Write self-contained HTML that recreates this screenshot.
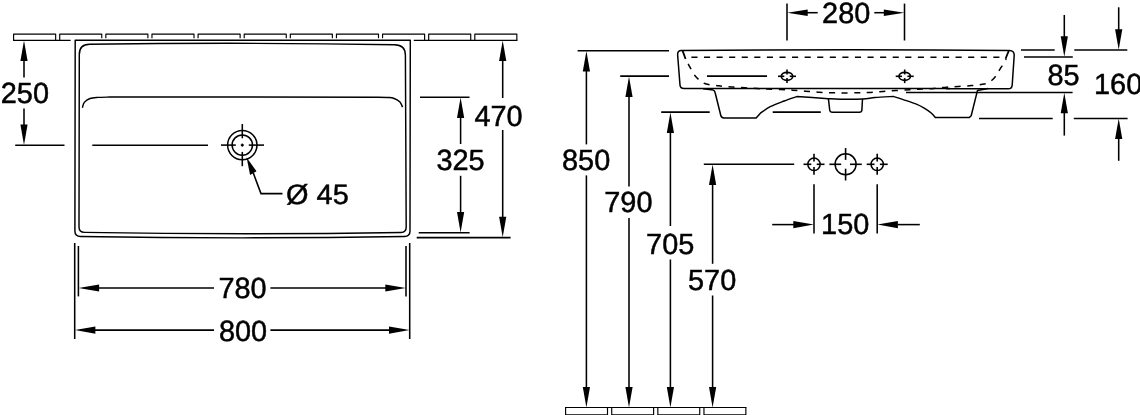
<!DOCTYPE html>
<html lang="en">
<head>
<meta charset="utf-8">
<title>Washbasin technical drawing</title>
<style>
html,body{margin:0;padding:0;background:#fff;}
body{width:1140px;height:415px;overflow:hidden;}
svg{display:block;}
.o{fill:none;stroke:#000;stroke-width:1.5;stroke-linecap:butt;stroke-linejoin:round;}
.dash{stroke-dasharray:6.1 6.48;}
.d{fill:#000;stroke:#000;stroke-width:1.55;}
.bar{stroke-width:1.15;}
.k{stroke-width:1.6;}
.lv{stroke-width:1.45;}
.d polygon{stroke:none;}
.t{font-family:"Liberation Sans",sans-serif;font-size:28.9px;fill:#000;stroke:#000;stroke-width:0.5px;opacity:0.999;text-rendering:geometricPrecision;}
</style>
</head>
<body>
<svg width="1140" height="415" viewBox="0 0 1140 415">
<rect x="0" y="0" width="1140" height="415" fill="#fff"/>
<g class="o bar">
<path d="M13.60 40.3 V34.1 H55.65 V40.3"/>
<path d="M59.72 40.3 V34.1 H101.77 V38.2"/>
<path d="M105.84 38.2 V34.1 H147.89 V38.2"/>
<path d="M151.96 38.2 V34.1 H194.01 V38.2"/>
<path d="M198.08 38.2 V34.1 H240.13 V38.2"/>
<path d="M244.20 38.2 V34.1 H286.25 V38.2"/>
<path d="M290.32 38.2 V34.1 H332.37 V38.2"/>
<path d="M336.44 38.2 V34.1 H378.49 V38.2"/>
<path d="M382.56 38.2 V34.1 H424.61 V40.3"/>
<path d="M428.68 40.3 V34.1 H470.73 V40.3"/>
<path d="M474.80 40.3 V34.1 H516.85 V40.3"/>
<path d="M13.03 40.3 H70.6 M413.8 40.3 H517.45"/>
</g>
<g class="o">
<path class="lv" d="M74.9 231 L75.2 40.3 H410.3 L410 231 Q410 236.4 404.5 236.5 Q242 239.2 80.5 236.5 Q74.9 236.4 74.9 231"/>
<path class="lv" d="M79 227 L79.3 54.5 Q79.3 44.4 89.5 44.3 Q242 42.2 394.5 44.7 Q405.3 44.8 405.4 55 L406.2 227 Q406.2 232.4 401 232.5 Q242 235 84.5 232.4 Q79 232.3 79 227 Z"/>
<path class="lv" d="M82.40 107.70 C82.72 106.82 83.03 103.93 84.30 102.40 C85.57 100.87 87.72 99.33 90.00 98.50 C92.28 97.67 94.77 97.64 98.00 97.40 C101.23 97.16 107.50 97.11 109.40 97.05 L242 96.9 L376 97.3 C378.00 97.33 385.08 97.35 388.00 97.50 C390.92 97.65 391.55 97.50 393.50 98.20 C395.45 98.90 398.18 100.20 399.70 101.70 C401.22 103.20 402.12 106.28 402.60 107.20"/>
<circle cx="242.3" cy="145.1" r="14.7"/><circle cx="242.3" cy="145.1" r="10.2"/>
</g>
<g class="d">
<line x1="15.20" y1="145.20" x2="64.50" y2="145.20"/>
<line x1="92.30" y1="145.20" x2="208.00" y2="145.20"/>
<line x1="221.00" y1="145.10" x2="235.80" y2="145.10"/>
<line x1="240.80" y1="145.10" x2="243.80" y2="145.10"/>
<line x1="248.80" y1="145.10" x2="264.00" y2="145.10"/>
<line x1="242.30" y1="124.00" x2="242.30" y2="138.30"/>
<line x1="242.30" y1="143.60" x2="242.30" y2="146.60"/>
<line x1="242.30" y1="151.90" x2="242.30" y2="166.20"/>
<path d="M253.2 172.8 L261 193.6 H282.5" fill="none"/>
<polygon points="246.6,157.5 250.1,175 256.5,171.3"/>
<line x1="24.00" y1="60.00" x2="24.00" y2="77.50"/>
<line x1="24.00" y1="108.50" x2="24.00" y2="125.00"/>
<polygon points="24.00,40.60 20.40,61.10 27.60,61.10"/>
<polygon points="24.00,144.90 20.40,124.40 27.60,124.40"/>
<line x1="420.00" y1="97.20" x2="469.50" y2="97.20"/>
<line x1="418.70" y1="232.80" x2="469.60" y2="232.80"/>
<line x1="460.60" y1="117.00" x2="460.60" y2="144.00"/>
<line x1="460.60" y1="175.80" x2="460.60" y2="213.00"/>
<polygon points="460.60,97.50 457.00,118.00 464.20,118.00"/>
<polygon points="460.60,232.50 457.00,212.00 464.20,212.00"/>
<line x1="416.70" y1="237.60" x2="510.60" y2="237.60"/>
<line x1="502.70" y1="60.00" x2="502.70" y2="98.00"/>
<line x1="502.70" y1="130.00" x2="502.70" y2="218.00"/>
<polygon points="502.70,40.60 499.10,61.10 506.30,61.10"/>
<polygon points="502.70,237.30 499.10,216.80 506.30,216.80"/>
<line x1="78.40" y1="246.00" x2="78.40" y2="296.40"/>
<line x1="406.00" y1="246.00" x2="406.00" y2="296.40"/>
<line x1="99.00" y1="288.00" x2="214.00" y2="288.00"/>
<line x1="270.40" y1="288.00" x2="386.00" y2="288.00"/>
<polygon points="78.60,288.00 99.10,284.40 99.10,291.60"/>
<polygon points="405.80,288.00 385.30,284.40 385.30,291.60"/>
<line x1="74.70" y1="243.00" x2="74.70" y2="339.00"/>
<line x1="409.70" y1="243.00" x2="409.70" y2="339.00"/>
<line x1="95.00" y1="330.10" x2="214.00" y2="330.10"/>
<line x1="270.40" y1="330.10" x2="390.00" y2="330.10"/>
<polygon points="74.90,330.10 95.40,326.50 95.40,333.70"/>
<polygon points="409.50,330.10 389.00,326.50 389.00,333.70"/>
</g>
<g class="o">
<path d="M713 88.5 H684 Q680.2 88.5 680 85 L677.6 54.5 Q677.6 50.5 681.3 50.5 Q845 49.3 1009.5 50.4 Q1014.3 50.4 1014.2 55.5 L1012.2 85 Q1012 88.8 1008.3 88.8 H946"/>
<path d="M713 88.5 H768"/>
<path d="M768 88.5 H950"/>
<path d="M682.6 50.9 Q683.8 54 685.6 59" style="stroke-width:1.8"/>
<path d="M1008.8 50.9 Q1007.4 54 1005.6 58.8" style="stroke-width:1.8"/>
<path d="M703 88.7 L713.3 90.1 Q714.7 90.6 715.1 92.5 L720.8 115.5 Q721.4 117.9 724 117.9 H756.1 L760.4 113.2 C762.03 112.12 766.23 108.73 770.20 106.70 C774.17 104.67 779.77 102.68 784.20 101.00 C788.63 99.32 794.70 97.33 796.80 96.60 L812.3 97.5 L828.4 98.7 C830.40 98.78 834.72 99.15 840.40 99.20 C846.08 99.25 856.73 99.27 862.50 99.00 C868.27 98.73 869.87 98.03 875.00 97.60 C880.13 97.17 890.25 96.60 893.30 96.40 C894.95 96.93 899.45 98.35 903.20 99.60 C906.95 100.85 912.30 102.48 915.80 103.90 C919.30 105.32 921.63 106.58 924.20 108.10 C926.77 109.62 929.33 111.42 931.20 113.00 C933.07 114.58 934.70 116.83 935.40 117.60 H969.1 L971.2 115.8 L977.5 90.4 L988 88.6"/>
<path d="M828.4 98.7 L829.7 110 Q830 112.3 832.5 112.3 H859.3 Q861.7 112.3 861.9 110 L862.5 99"/>
<ellipse cx="787.0" cy="76.3" rx="5.7" ry="4.0" style="stroke-width:1.65"/>
<ellipse cx="904.7" cy="76.3" rx="5.7" ry="4.0" style="stroke-width:1.65"/>
<circle cx="814" cy="164.3" r="6.2"/><circle cx="845.6" cy="164.3" r="10.5"/><circle cx="877.2" cy="164.3" r="6.2"/>
</g>
<g class="o bar">
<path d="M565.60 407.5 V414.9 H607.50 V407.5"/>
<path d="M611.72 407.5 V414.9 H653.62 V407.5"/>
<path d="M657.84 407.5 V414.9 H699.74 V407.5"/>
<path d="M703.96 407.5 V414.9 H745.86 V407.5"/>
<path d="M565.0 407.5 H746.45"/>
</g>
<g class="o dash">
<path d="M691.4 57.3 H1004"/>
<path d="M685.00 58.30 C685.57 59.30 687.33 62.40 688.40 64.30 C689.47 66.20 690.30 67.80 691.40 69.70 C692.50 71.60 693.68 73.98 695.00 75.70 C696.32 77.42 697.80 78.75 699.30 80.00 C700.80 81.25 702.22 82.40 704.00 83.20 C705.78 84.00 707.78 84.38 710.00 84.80 C712.22 85.22 715.17 85.45 717.30 85.70 C719.43 85.95 720.18 86.07 722.80 86.30 C725.42 86.53 729.30 86.85 733.00 87.10 C736.70 87.35 741.00 87.57 745.00 87.80 C749.00 88.03 753.27 88.28 757.00 88.50 C760.73 88.72 763.45 88.92 767.40 89.10 C771.35 89.28 776.50 89.42 780.70 89.60 C784.90 89.78 788.50 89.93 792.60 90.20 C796.70 90.47 801.07 90.87 805.30 91.20 C809.53 91.53 813.80 91.95 818.00 92.20 C822.20 92.45 826.42 92.58 830.50 92.70 C834.58 92.82 837.92 92.88 842.50 92.90 C847.08 92.92 853.33 92.88 858.00 92.80 C862.67 92.72 866.33 92.63 870.50 92.40 C874.67 92.17 878.75 91.72 883.00 91.40 C887.25 91.08 891.50 90.79 896.00 90.50 C900.50 90.21 905.67 89.88 910.00 89.65 C914.33 89.42 918.00 89.31 922.00 89.10 C926.00 88.89 929.88 88.73 934.00 88.40 C938.12 88.08 942.60 87.48 946.70 87.15 C950.80 86.83 954.47 86.71 958.60 86.45 C962.73 86.19 967.77 85.92 971.50 85.60 C975.23 85.27 978.35 84.92 981.00 84.50 C983.65 84.08 985.48 83.90 987.40 83.10 C989.32 82.30 990.93 81.10 992.50 79.70 C994.07 78.30 995.60 76.38 996.80 74.70 C998.00 73.02 998.62 71.42 999.70 69.60 C1000.78 67.78 1002.22 65.60 1003.30 63.80 C1004.38 62.00 1005.72 59.63 1006.20 58.80" style="stroke-dashoffset:6.2"/>
</g>
<g class="d">
<line x1="778.00" y1="76.30" x2="784.30" y2="76.30" class="k"/>
<line x1="789.70" y1="76.30" x2="796.00" y2="76.30" class="k"/>
<line x1="787.00" y1="69.50" x2="787.00" y2="74.50" class="k"/>
<line x1="787.00" y1="78.10" x2="787.00" y2="83.10" class="k"/>
<line x1="895.70" y1="76.30" x2="902.00" y2="76.30" class="k"/>
<line x1="907.40" y1="76.30" x2="913.70" y2="76.30" class="k"/>
<line x1="904.70" y1="69.50" x2="904.70" y2="74.50" class="k"/>
<line x1="904.70" y1="78.10" x2="904.70" y2="83.10" class="k"/>
<line x1="803.50" y1="164.30" x2="811.30" y2="164.30" class="k"/>
<line x1="816.70" y1="164.30" x2="824.50" y2="164.30" class="k"/>
<line x1="814.00" y1="153.80" x2="814.00" y2="161.60" class="k"/>
<line x1="814.00" y1="167.00" x2="814.00" y2="174.80" class="k"/>
<line x1="829.40" y1="164.30" x2="841.20" y2="164.30" class="k"/>
<line x1="850.00" y1="164.30" x2="861.80" y2="164.30" class="k"/>
<line x1="845.60" y1="148.10" x2="845.60" y2="159.90" class="k"/>
<line x1="845.60" y1="168.70" x2="845.60" y2="180.50" class="k"/>
<line x1="866.70" y1="164.30" x2="874.50" y2="164.30" class="k"/>
<line x1="879.90" y1="164.30" x2="887.70" y2="164.30" class="k"/>
<line x1="877.20" y1="153.80" x2="877.20" y2="161.60" class="k"/>
<line x1="877.20" y1="167.00" x2="877.20" y2="174.80" class="k"/>
<line x1="707.00" y1="76.10" x2="767.00" y2="76.10"/>
<line x1="577.60" y1="50.70" x2="669.00" y2="50.70"/>
<line x1="620.20" y1="76.10" x2="669.00" y2="76.10"/>
<line x1="661.20" y1="112.10" x2="709.70" y2="112.10"/>
<line x1="772.70" y1="112.10" x2="820.80" y2="112.10"/>
<line x1="703.80" y1="164.30" x2="794.20" y2="164.30"/>
<line x1="586.40" y1="70.90" x2="586.40" y2="144.40"/>
<line x1="586.40" y1="175.40" x2="586.40" y2="387.50"/>
<polygon points="586.40,50.90 582.80,71.40 590.00,71.40"/>
<polygon points="586.40,407.60 582.80,387.10 590.00,387.10"/>
<line x1="629.00" y1="96.40" x2="629.00" y2="186.60"/>
<line x1="629.00" y1="218.00" x2="629.00" y2="387.50"/>
<polygon points="629.00,76.40 625.40,96.90 632.60,96.90"/>
<polygon points="629.00,407.60 625.40,387.10 632.60,387.10"/>
<line x1="670.40" y1="132.40" x2="670.40" y2="226.00"/>
<line x1="670.40" y1="259.50" x2="670.40" y2="387.50"/>
<polygon points="670.40,112.40 666.80,132.90 674.00,132.90"/>
<polygon points="670.40,407.60 666.80,387.10 674.00,387.10"/>
<line x1="712.60" y1="184.60" x2="712.60" y2="263.80"/>
<line x1="712.60" y1="295.50" x2="712.60" y2="387.50"/>
<polygon points="712.60,164.60 709.00,185.10 716.20,185.10"/>
<polygon points="712.60,407.60 709.00,387.10 716.20,387.10"/>
<line x1="787.00" y1="3.60" x2="787.00" y2="40.50"/>
<line x1="904.50" y1="3.60" x2="904.50" y2="40.50"/>
<line x1="807.00" y1="12.70" x2="817.70" y2="12.70"/>
<line x1="874.30" y1="12.70" x2="884.00" y2="12.70"/>
<polygon points="787.20,12.70 807.70,9.50 807.70,15.90"/>
<polygon points="904.30,12.70 883.80,9.50 883.80,15.90"/>
<line x1="814.00" y1="184.30" x2="814.00" y2="233.50"/>
<line x1="877.20" y1="184.30" x2="877.20" y2="233.50"/>
<line x1="772.20" y1="224.60" x2="794.00" y2="224.60"/>
<line x1="897.50" y1="224.60" x2="919.80" y2="224.60"/>
<polygon points="813.80,224.60 793.30,221.00 793.30,228.20"/>
<polygon points="877.40,224.60 897.90,221.00 897.90,228.20"/>
<line x1="1021.00" y1="50.00" x2="1054.70" y2="50.00"/>
<line x1="1074.30" y1="50.00" x2="1127.30" y2="50.00"/>
<line x1="1024.00" y1="57.00" x2="1072.80" y2="57.00"/>
<line x1="906.00" y1="92.50" x2="1072.60" y2="92.50"/>
<line x1="979.00" y1="118.40" x2="1052.70" y2="118.40"/>
<line x1="1073.80" y1="118.40" x2="1127.60" y2="118.40"/>
<line x1="1064.30" y1="15.00" x2="1064.30" y2="37.00"/>
<polygon points="1064.30,56.80 1060.70,36.30 1067.90,36.30"/>
<line x1="1064.30" y1="112.50" x2="1064.30" y2="135.60"/>
<polygon points="1064.30,92.70 1060.70,113.20 1067.90,113.20"/>
<line x1="1118.70" y1="7.30" x2="1118.70" y2="30.00"/>
<polygon points="1118.70,49.80 1115.10,29.30 1122.30,29.30"/>
<line x1="1118.70" y1="138.00" x2="1118.70" y2="160.80"/>
<polygon points="1118.70,118.60 1115.10,139.10 1122.30,139.10"/>
</g>
<g class="t">
<text transform="translate(24.90 103.40) scale(1 1.010)" text-anchor="middle">250</text>
<text transform="translate(317.40 203.90) scale(1 0.970)" text-anchor="middle">Ø 45</text>
<text transform="translate(498.50 125.60) scale(1 1.010)" text-anchor="middle">470</text>
<text transform="translate(460.50 170.30) scale(1 1.010)" text-anchor="middle">325</text>
<text transform="translate(242.50 298.30) scale(1 1.010)" text-anchor="middle">780</text>
<text transform="translate(243.00 340.60) scale(1 1.010)" text-anchor="middle">800</text>
<text transform="translate(846.20 23.20) scale(1 1.010)" text-anchor="middle">280</text>
<text transform="translate(845.20 234.00) scale(1 1.010)" text-anchor="middle">150</text>
<text transform="translate(586.10 170.00) scale(1 1.010)" text-anchor="middle">850</text>
<text transform="translate(628.40 211.80) scale(1 1.010)" text-anchor="middle">790</text>
<text transform="translate(670.20 253.70) scale(1 1.010)" text-anchor="middle">705</text>
<text transform="translate(712.10 289.60) scale(1 1.010)" text-anchor="middle">570</text>
<text transform="translate(1063.60 85.30) scale(1 1.010)" text-anchor="middle">85</text>
<text transform="translate(1118.10 94.30) scale(1 1.010)" text-anchor="middle">160</text>
</g>
</svg>
</body>
</html>
